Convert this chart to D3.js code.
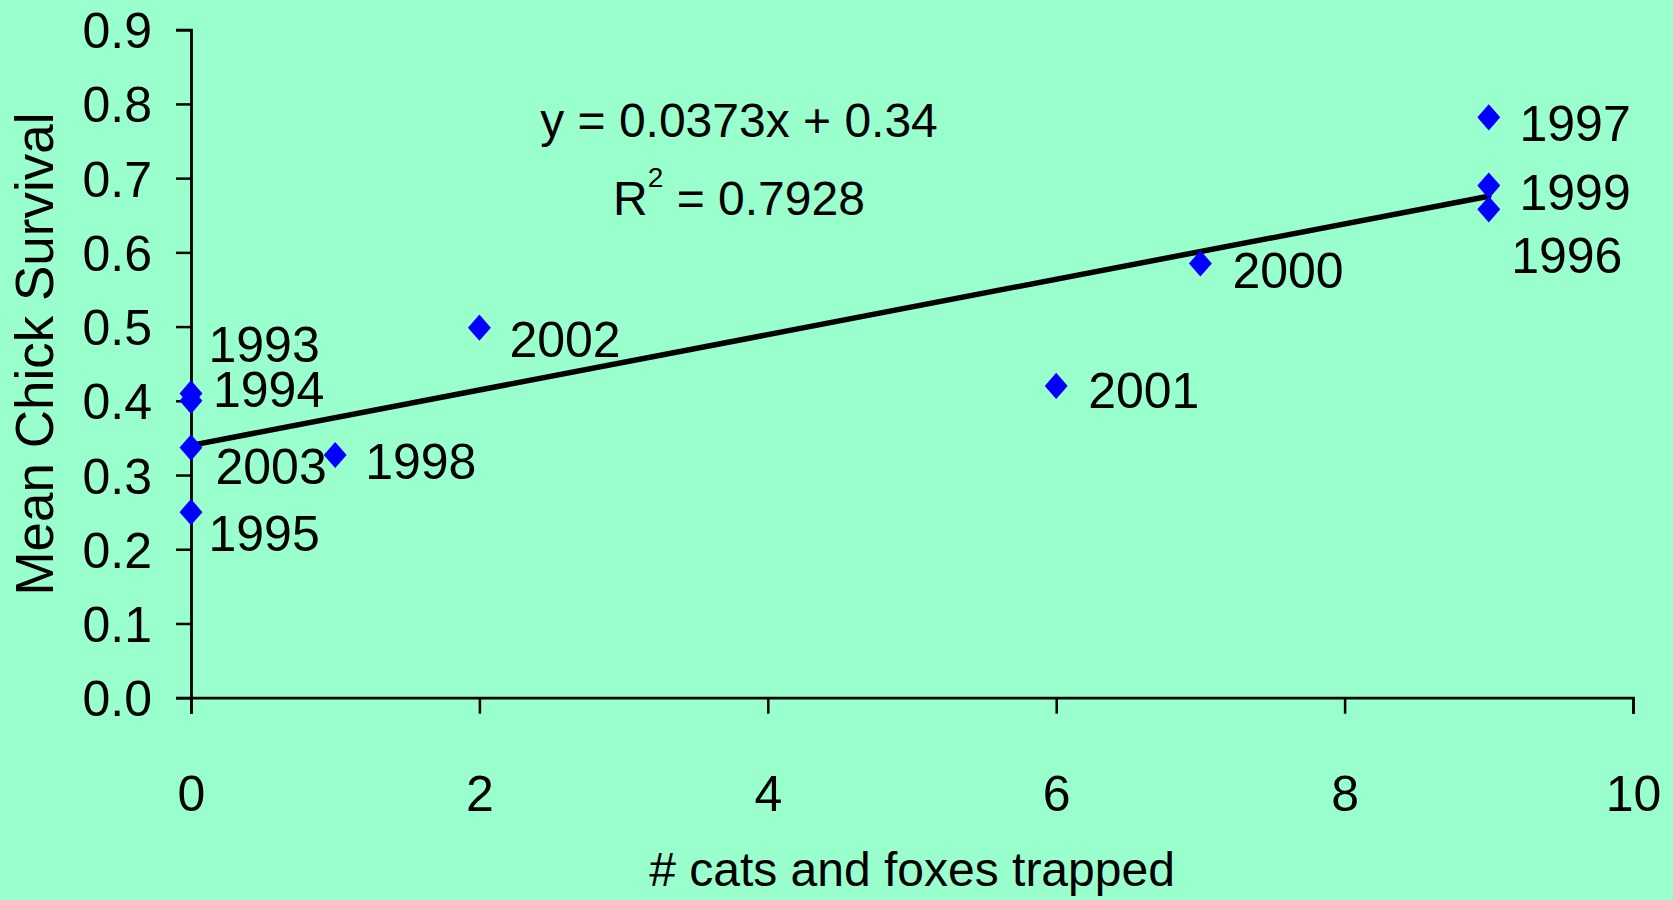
<!DOCTYPE html>
<html>
<head>
<meta charset="utf-8">
<script src="https://cdn.jsdelivr.net/npm/d3@7"></script>
<style>
  html, body { margin: 0; padding: 0; background: #99FFCC; }
  svg { display: block; }
  text { font-family: "Liberation Sans", Arial, sans-serif; fill: #000; }
</style>
</head>
<body>
<svg id="chart" width="1673" height="900"></svg>
<script>
// ---- data ----
const years    = ["1993", "1994", "2003", "1995", "1998", "2002", "2001", "2000", "1997", "1999", "1996"];
const trapped  = [0, 0, 0, 0, 1, 2, 6, 7, 9, 9, 9];
const survival = [0.41, 0.40, 0.337, 0.25, 0.327, 0.4985, 0.42, 0.585, 0.782, 0.690, 0.658];
const xTickValues = [0, 2, 4, 6, 8, 10];
const yTickValues = [0, 0.1, 0.2, 0.3, 0.4, 0.5, 0.6, 0.7, 0.8, 0.9];
const trendSlope = 0.0373;
const trendIntercept = 0.34;
const trendXExtent = [0, 9];
const equationText = "y = 0.0373x + 0.34";
const r2Value = "0.7928";
const xTitle = "# cats and foxes trapped";
const yTitle = "Mean Chick Survival";

// label nudges (pixels, relative to each point)
const labelDx = [17.5, 22, 24.5, 17.5, 30, 30, 32, 32, 30.7, 30.7, 22.4];
const labelDy = [-31.7, 6.5, 36.7, 38.5, 24.3, 29, 22.3, 24, 23.7, 24.4, 64];

// ---- layout ----
const W = 1673, H = 900;
const svg = d3.select("#chart");
svg.append("rect").attr("width", W).attr("height", H).attr("fill", "#99FFCC");

const x = d3.scaleLinear().domain([0, 10]).range([191, 1633]);
const y = d3.scaleLinear().domain([0, 0.9]).range([697.7, 29.7]);

// axes
const yAxis = d3.axisLeft(y).tickValues(yTickValues).tickFormat(d3.format(".1f"))
  .tickSize(15).tickSizeOuter(15).tickPadding(24);
const xAxis = d3.axisBottom(x).tickValues(xTickValues).tickFormat(d3.format("d"))
  .tickSize(16).tickSizeOuter(16).tickPadding(62);

const gy = svg.append("g").attr("transform", `translate(${x(0)},0)`).call(yAxis);
const gx = svg.append("g").attr("transform", `translate(0,${y(0)})`).call(xAxis);

[gx, gy].forEach(g => {
  g.select(".domain").attr("stroke", "#000").attr("stroke-width", 2.8);
  g.selectAll(".tick line").attr("stroke", "#000").attr("stroke-width", 2.5);
  g.selectAll(".tick text").attr("font-size", 50).attr("fill", "#000")
    .attr("font-family", '"Liberation Sans", Arial, sans-serif');
});
gy.selectAll(".tick text").attr("dy", "0.36em");
gx.selectAll(".tick text").attr("dy", "0.71em");

// trend line
const trendPts = trendXExtent.map(v => [v, trendIntercept + trendSlope * v]);
svg.append("path")
  .datum(trendPts)
  .attr("d", d3.line().x(d => x(d[0])).y(d => y(d[1])))
  .attr("fill", "none").attr("stroke", "#000").attr("stroke-width", 5.5)
  .attr("stroke-linecap", "round");

// diamond markers (slightly wide diamond)
const wideDiamond = {
  draw(ctx, size) {
    const h = Math.sqrt(size / 0.4375);
    const hh = h / 2, hw = 0.875 * h / 2;
    ctx.moveTo(0, -hh); ctx.lineTo(hw, 0); ctx.lineTo(0, hh); ctx.lineTo(-hw, 0); ctx.closePath();
  }
};
const pts = years.map((yr, i) => ({ yr, xv: trapped[i], yv: survival[i], dx: labelDx[i], dy: labelDy[i] }));

svg.append("g").selectAll("path").data(pts).join("path")
  .attr("transform", d => `translate(${x(d.xv)},${y(d.yv)})`)
  .attr("d", d3.symbol().type(wideDiamond).size(300))
  .attr("fill", "#0000FF");

// point labels
svg.append("g").selectAll("text").data(pts).join("text")
  .attr("x", d => x(d.xv) + d.dx)
  .attr("y", d => y(d.yv) + d.dy)
  .attr("font-size", 50)
  .text(d => d.yr);

// equation
svg.append("text").attr("x", 739).attr("y", 136.7).attr("text-anchor", "middle")
  .attr("font-size", 48).text(equationText);
const r2 = svg.append("text").attr("x", 739).attr("y", 215).attr("text-anchor", "middle")
  .attr("font-size", 48);
r2.append("tspan").text("R");
r2.append("tspan").attr("font-size", 28).attr("dy", -28).text("2");
r2.append("tspan").attr("dy", 28).text(" = " + r2Value);

// axis titles
svg.append("text").attr("x", 912).attr("y", 886).attr("text-anchor", "middle")
  .attr("font-size", 48).text(xTitle);
svg.append("text").attr("transform", "translate(53,354) rotate(-90)")
  .attr("text-anchor", "middle").attr("font-size", 53).text(yTitle);
</script>
</body>
</html>
